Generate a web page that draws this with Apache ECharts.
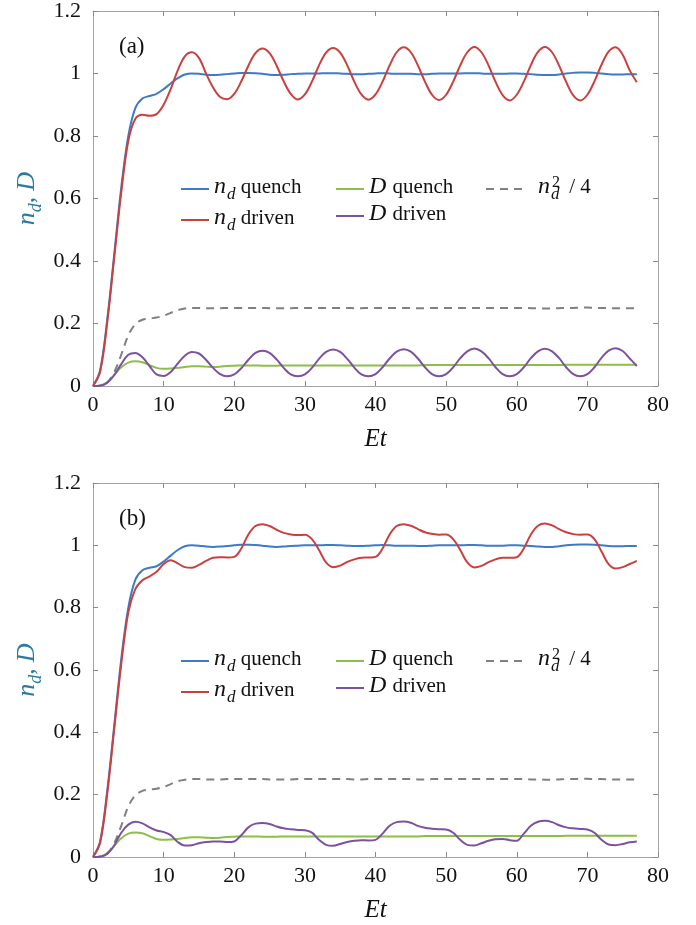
<!DOCTYPE html>
<html>
<head>
<meta charset="utf-8">
<script src="https://cdn.jsdelivr.net/npm/echarts@6/dist/echarts.min.js"></script>
<style>
html,body{margin:0;padding:0;background:#fff;}
#chart{width:696px;height:925px;}
</style>
</head>
<body>
<div id="chart"></div>
<script>
// ---------- data ----------
const Et = [0,1,2,3,4,5,6,7,8,9,10,11,12,13,14,15,16,17,18,19,20,21,22,23,24,25,26,27,28,29,30,31,32,33,34,35,36,37,38,39,40,41,42,43,44,45,46,47,48,49,50,51,52,53,54,55,56,57,58,59,60,61,62,63,64,65,66,67,68,69,70,71,72,73,74,75,76,77];
const xTicks = [0,10,20,30,40,50,60,70,80];
const yTicks = [0,0.2,0.4,0.6,0.8,1,1.2];
const panelLabels = ['(a)','(b)'];

// panel (a)
const ndQuenchA = [0,0.05,0.21,0.42,0.635,0.8,0.89,0.92,0.928,0.935,0.95,0.968,0.985,0.997,1.0,0.999,0.996,0.995,0.996,0.998,1.0,1.002,1.002,1.001,0.999,0.996,0.995,0.996,0.998,0.999,1.0,1.0,1.0,1.001,1.001,1.0,0.999,0.998,0.998,0.999,1.0,1.001,1.0,0.999,0.999,0.999,0.998,0.998,0.999,1.0,1.0,1.0,1.0,1.001,1.001,1.0,0.999,0.999,0.999,1.0,1.0,0.999,0.998,0.996,0.995,0.995,0.997,1.0,1.002,1.003,1.003,1.002,1.0,0.998,0.997,0.997,0.998,0.998];
const DQuenchA = [0,0.002,0.012,0.035,0.06,0.075,0.079,0.076,0.067,0.058,0.055,0.056,0.058,0.061,0.063,0.063,0.062,0.061,0.062,0.064,0.065,0.066,0.066,0.066,0.065,0.065,0.065,0.066,0.066,0.066,0.066,0.066,0.066,0.066,0.066,0.066,0.066,0.066,0.066,0.066,0.066,0.066,0.066,0.066,0.066,0.066,0.066,0.067,0.067,0.067,0.067,0.067,0.067,0.067,0.067,0.067,0.067,0.067,0.067,0.067,0.067,0.067,0.067,0.067,0.067,0.067,0.067,0.068,0.068,0.068,0.068,0.068,0.068,0.068,0.068,0.068,0.068,0.068];
const nd2over4A = [0,0.001,0.011,0.044,0.1,0.162,0.198,0.212,0.216,0.219,0.225,0.234,0.243,0.248,0.25,0.25,0.249,0.249,0.249,0.25,0.25,0.25,0.25,0.25,0.25,0.249,0.249,0.249,0.249,0.25,0.25,0.25,0.25,0.25,0.25,0.25,0.25,0.249,0.249,0.25,0.25,0.25,0.25,0.25,0.25,0.25,0.249,0.249,0.25,0.25,0.25,0.25,0.25,0.25,0.25,0.25,0.25,0.25,0.25,0.25,0.25,0.25,0.249,0.249,0.248,0.248,0.249,0.25,0.25,0.251,0.251,0.25,0.25,0.249,0.249,0.249,0.249,0.249];
const ndDrivenA = [0,0.045,0.2,0.41,0.62,0.785,0.855,0.868,0.865,0.87,0.9,0.95,1.01,1.055,1.068,1.05,1.0,0.955,0.925,0.918,0.935,0.975,1.025,1.065,1.08,1.065,1.025,0.975,0.935,0.917,0.933,0.974,1.026,1.067,1.082,1.067,1.026,0.974,0.933,0.916,0.933,0.974,1.026,1.068,1.084,1.068,1.026,0.974,0.932,0.915,0.932,0.974,1.026,1.068,1.085,1.068,1.026,0.973,0.931,0.914,0.932,0.974,1.027,1.069,1.085,1.068,1.025,0.973,0.93,0.914,0.932,0.975,1.028,1.07,1.084,1.06,1.01,0.972];
const DDrivenA = [0,0.001,0.01,0.035,0.07,0.1,0.106,0.092,0.064,0.037,0.032,0.045,0.072,0.097,0.109,0.104,0.084,0.058,0.038,0.031,0.037,0.057,0.084,0.106,0.113,0.106,0.085,0.058,0.037,0.031,0.037,0.058,0.087,0.109,0.117,0.109,0.087,0.059,0.037,0.031,0.038,0.06,0.088,0.11,0.118,0.11,0.088,0.06,0.038,0.031,0.038,0.06,0.089,0.111,0.12,0.111,0.089,0.06,0.038,0.031,0.038,0.06,0.089,0.111,0.119,0.111,0.089,0.06,0.038,0.031,0.038,0.06,0.09,0.113,0.121,0.112,0.088,0.064];

// panel (b)
const ndQuenchB = [0,0.05,0.21,0.42,0.635,0.8,0.89,0.92,0.928,0.933,0.948,0.967,0.985,0.997,1.0,0.999,0.996,0.995,0.996,0.998,1.0,1.002,1.002,1.001,0.999,0.996,0.995,0.996,0.998,0.999,1.0,1.0,1.0,1.001,1.001,1.0,0.999,0.998,0.998,0.999,1.0,1.001,1.0,0.999,0.999,0.999,0.998,0.998,0.999,1.0,1.0,1.0,1.0,1.001,1.001,1.0,0.999,0.999,0.999,1.0,1.0,0.999,0.998,0.996,0.995,0.995,0.997,1.0,1.002,1.003,1.003,1.002,1.0,0.998,0.997,0.997,0.998,0.998];
const DQuenchB = [0,0.002,0.012,0.035,0.06,0.075,0.079,0.076,0.067,0.058,0.055,0.056,0.058,0.061,0.063,0.063,0.062,0.061,0.062,0.064,0.065,0.066,0.066,0.066,0.065,0.065,0.065,0.066,0.066,0.066,0.066,0.066,0.066,0.066,0.066,0.066,0.066,0.066,0.066,0.066,0.066,0.066,0.066,0.066,0.066,0.066,0.066,0.067,0.067,0.067,0.067,0.067,0.067,0.067,0.067,0.067,0.067,0.067,0.067,0.067,0.067,0.067,0.067,0.067,0.067,0.067,0.067,0.068,0.068,0.068,0.068,0.068,0.068,0.068,0.068,0.068,0.068,0.068];
const nd2over4B = [0,0.001,0.011,0.044,0.1,0.162,0.198,0.212,0.216,0.219,0.225,0.234,0.243,0.248,0.25,0.25,0.249,0.249,0.249,0.25,0.25,0.25,0.25,0.25,0.25,0.249,0.249,0.249,0.249,0.25,0.25,0.25,0.25,0.25,0.25,0.25,0.25,0.249,0.249,0.25,0.25,0.25,0.25,0.25,0.25,0.25,0.249,0.249,0.25,0.25,0.25,0.25,0.25,0.25,0.25,0.25,0.25,0.25,0.25,0.25,0.25,0.25,0.249,0.249,0.248,0.248,0.249,0.25,0.25,0.251,0.251,0.25,0.25,0.249,0.249,0.249,0.249,0.249];
const ndDrivenB = [0,0.045,0.2,0.41,0.62,0.785,0.86,0.888,0.9,0.915,0.94,0.952,0.942,0.93,0.928,0.937,0.95,0.96,0.962,0.961,0.963,0.99,1.035,1.062,1.068,1.062,1.05,1.04,1.035,1.033,1.034,1.02,0.985,0.945,0.93,0.935,0.947,0.955,0.96,0.961,0.963,0.99,1.035,1.062,1.068,1.063,1.052,1.042,1.037,1.034,1.035,1.02,0.985,0.945,0.929,0.934,0.946,0.955,0.96,0.96,0.962,0.99,1.035,1.063,1.07,1.064,1.052,1.042,1.036,1.034,1.035,1.02,0.98,0.94,0.926,0.93,0.94,0.95];
const DDrivenB = [0,0.001,0.01,0.037,0.078,0.104,0.113,0.108,0.095,0.085,0.08,0.07,0.048,0.037,0.038,0.044,0.048,0.05,0.05,0.048,0.05,0.07,0.095,0.107,0.109,0.106,0.098,0.092,0.089,0.087,0.086,0.078,0.055,0.039,0.036,0.042,0.048,0.052,0.054,0.053,0.055,0.075,0.1,0.112,0.114,0.11,0.1,0.094,0.091,0.089,0.088,0.078,0.055,0.039,0.037,0.044,0.052,0.057,0.058,0.054,0.052,0.075,0.1,0.113,0.116,0.112,0.102,0.095,0.092,0.09,0.088,0.078,0.055,0.04,0.038,0.042,0.047,0.05];

// ---------- styling ----------
const SERIF = '"Liberation Serif", "DejaVu Serif", serif';
const COLORS = {nq:'#3b7bc8', dq:'#8cbf47', sq:'#808080', nv:'#c8413f', dv:'#7c52a0'};
const LEG = {
  nq: '{m|n}{s|d}{t| quench}',
  nv: '{m|n}{s|d}{t| driven}',
  dq: '{m|D}{t| quench}',
  dv: '{m|D}{t| driven}',
  sq: '{m0|n}{sd|d}{sp|2}{t| / 4}'
};
const rich = {
  m:{fontFamily:SERIF, fontStyle:'italic', fontSize:24, padding:[0,1,4,0], verticalAlign:'bottom', color:'#111'},
  m0:{fontFamily:SERIF, fontStyle:'italic', fontSize:24, padding:[0,1,4,9], verticalAlign:'bottom', color:'#111'},
  t:{fontFamily:SERIF, fontSize:21, padding:[0,0,5,0], verticalAlign:'bottom', color:'#111'},
  s:{fontFamily:SERIF, fontStyle:'italic', fontSize:17, verticalAlign:'bottom', color:'#111'},
  sd:{fontFamily:SERIF, fontStyle:'italic', fontSize:17, verticalAlign:'bottom', width:1, color:'#111'},
  sp:{fontFamily:SERIF, fontSize:16, verticalAlign:'top', padding:[0,4,0,0], color:'#111'}
};

const grids = [
  {left:93, top:11, width:565, height:375},
  {left:93, top:483, width:565, height:374}
];

function pts(arr){ return arr.map((v,i)=>[Et[i], v]); }

const xAxes = [], yAxes = [];
grids.forEach((g, gi) => {
  const frame = {lineStyle:{color:'#a3a3a3', width:1}};
  const tick = {show:true, inside:true, length:5, lineStyle:{color:'#8a8a8a'}};
  xAxes.push({
    gridIndex:gi, type:'value', min:0, max:80, interval:10, position:'bottom',
    axisLine:{show:true, onZero:false, ...frame}, axisTick:tick, splitLine:{show:false},
    axisLabel:{fontFamily:SERIF, fontSize:22, color:'#111', margin:8,
      formatter: v => xTicks.includes(v) ? String(v) : ''},
    name:'Et', nameLocation:'middle', nameGap:41, nameMoveOverlap:false,
    nameTextStyle:{fontFamily:SERIF, fontStyle:'italic', fontSize:25, color:'#111'}
  });
  xAxes.push({
    gridIndex:gi, type:'value', min:0, max:80, interval:10, position:'top',
    axisLine:{show:true, onZero:false, ...frame}, axisTick:tick, splitLine:{show:false},
    axisLabel:{show:false}
  });
  yAxes.push({
    gridIndex:gi, type:'value', min:0, max:1.2, interval:0.2, position:'left',
    axisLine:{show:true, onZero:false, ...frame}, axisTick:tick, splitLine:{show:false},
    axisLabel:{fontFamily:SERIF, fontSize:22, color:'#111', margin:12,
      formatter: v => { const r = Math.round(v*10)/10; return yTicks.includes(r) ? String(r) : ''; }},
    name:'{m|n}{s|d}{t|, }{m|D}', nameLocation:'middle', nameGap:48, nameRotate:90,
    nameMoveOverlap:false,
    nameTextStyle:{rich:{
      m:{fontFamily:SERIF, fontStyle:'italic', fontSize:26, padding:[0,0,5,0], verticalAlign:'bottom', color:'#2b7aa3'},
      t:{fontFamily:SERIF, fontSize:25, padding:[0,0,5,0], verticalAlign:'bottom', color:'#2b7aa3'},
      s:{fontFamily:SERIF, fontStyle:'italic', fontSize:18, verticalAlign:'bottom', color:'#2b7aa3'}
    }}
  });
  yAxes.push({
    gridIndex:gi, type:'value', min:0, max:1.2, interval:0.2, position:'right',
    axisLine:{show:true, onZero:false, ...frame}, axisTick:tick, splitLine:{show:false},
    axisLabel:{show:false}
  });
});

const panels = [
  {sfx:'a', nq:ndQuenchA, dq:DQuenchA, sq:nd2over4A, nv:ndDrivenA, dv:DDrivenA},
  {sfx:'b', nq:ndQuenchB, dq:DQuenchB, sq:nd2over4B, nv:ndDrivenB, dv:DDrivenB}
];
const series = [];
const legends = [];
const order = ['nq','dq','sq','nv','dv'];
panels.forEach((p, pi) => {
  order.forEach(k => {
    series.push({
      name: k + '_' + p.sfx, type:'line', xAxisIndex:pi*2, yAxisIndex:pi*2,
      data: pts(p[k]), smooth:0.35, symbol:'none', showSymbol:false,
      lineStyle:{color:COLORS[k], width:2, type: k==='sq' ? [8,6] : 'solid'},
      itemStyle:{color:COLORS[k]}, animation:false
    });
  });
  const top0 = grids[pi].top + 164;
  const cols = [
    {left:180, names:['nq','nv'], w:28},
    {left:335, names:['dq','dv'], w:28},
    {left:485, names:['sq'], w:38}
  ];
  cols.forEach(c => {
    legends.push({
      show:true, orient:'vertical', left:c.left, top:top0, padding:0, itemGap:3,
      itemWidth:c.w, itemHeight:14, selectedMode:false,
      itemStyle:{opacity:0},
      data: c.names.map(n => n + '_' + p.sfx),
      formatter: name => LEG[name.split('_')[0]],
      textStyle:{rich: rich}
    });
  });
});

const graphics = panelLabels.map((t, i) => ({
  type:'text', left:119, top: grids[i].top + 24,
  style:{text:t, font:'23px ' + SERIF, fill:'#111'}
}));

const chart = echarts.init(document.getElementById('chart'), null, {renderer:'canvas'});
chart.setOption({
  backgroundColor:'#fff',
  animation:false,
  grid: grids,
  xAxis: xAxes,
  yAxis: yAxes,
  legend: legends,
  series: series,
  graphic: graphics
});
</script>
</body>
</html>
